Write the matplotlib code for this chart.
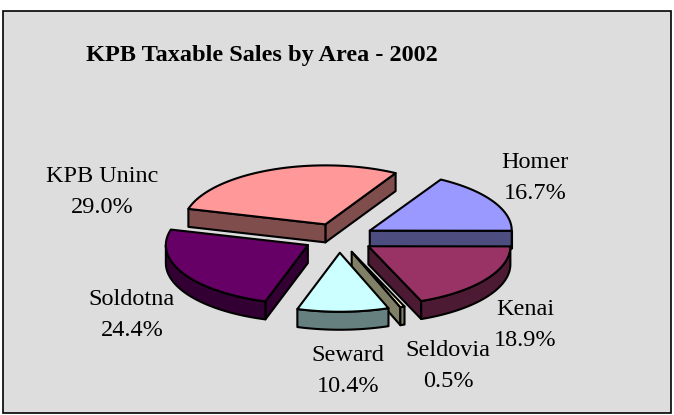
import matplotlib
matplotlib.use("Agg")
import matplotlib.pyplot as plt
from matplotlib.patches import Polygon, Rectangle
import numpy as np

# data (percent of taxable sales), clockwise from Homer
areas = ['Homer', 'Kenai', 'Seldovia', 'Seward', 'Soldotna', 'KPB Uninc']
shares = [16.7, 18.9, 0.5, 10.4, 24.4, 29.0]

# Excel-ish 3D colours (top face, side face)
top_colors = ['#9999FF', '#993366', '#FFFFCC', '#CCFFFF', '#660066', '#FF9999']
side_colors = ['#4D4D80', '#4D1A33', '#808066', '#668080', '#330033', '#804D4D']

# label centres in pixels (x, y) with y measured from the top
label_pos = [(535, 178), (525, 325), (448, 366), (348, 371), (132, 315), (102, 192)]

# pie geometry in pixels
W, H = 674, 415
CX, CY = 339, 238
RX, RY = 142, 59
EXPLODE = 0.25
DEPTH = 18
START = 60.0

fig = plt.figure(figsize=(W / 100, H / 100), dpi=100)
ax = fig.add_axes([0, 0, 1, 1])
ax.set_xlim(0, W)
ax.set_ylim(H, 0)
ax.axis('off')

# chart area
ax.add_patch(Rectangle((3, 11), 668, 402, facecolor='#DDDDDD', edgecolor='black', lw=1.2))


def rim(cx, cy, t, dz=0):
    t = np.radians(t)
    return np.column_stack([cx + RX * np.cos(t), cy - RY * np.sin(t) + dz])


def slice_faces(lo, hi):
    """Returns list of (points, kind) for the visible faces of one exploded slice."""
    mid = np.radians((lo + hi) / 2)
    cx = CX + EXPLODE * RX * np.cos(mid)
    cy = CY - EXPLODE * RY * np.sin(mid)
    faces = []
    # radial cut faces
    for ang, visible in ((lo, np.cos(np.radians(lo)) > 0), (hi, np.cos(np.radians(hi)) < 0)):
        if visible:
            p = rim(cx, cy, np.array([ang]))[0]
            faces.append((np.array([[cx, cy], p, p + [0, DEPTH], [cx, cy + DEPTH]]), 'side'))
    # outer curved wall, front half only
    for k in (-1, 0, 1):
        a = max(lo, -180 + 360 * k)
        b = min(hi, 360 * k)
        if b > a:
            t = np.linspace(a, b, 80)
            up = rim(cx, cy, t)
            down = rim(cx, cy, t[::-1], DEPTH)
            faces.append((np.vstack([up, down]), 'side'))
    # top face
    t = np.linspace(lo, hi, 120)
    faces.append((np.vstack([[cx, cy], rim(cx, cy, t)]), 'top'))
    return faces, cy


slices = []
acc = 0.0
for i, v in enumerate(shares):
    hi = START - acc * 3.6
    lo = hi - v * 3.6
    acc += v
    faces, depth = slice_faces(lo, hi)
    slices.append((depth, i, faces))

# back to front
for depth, i, faces in sorted(slices, key=lambda s: s[0]):
    for pts, kind in faces:
        col = top_colors[i] if kind == 'top' else side_colors[i]
        ax.add_patch(Polygon(pts, closed=True, facecolor=col, edgecolor='black',
                             lw=1.5, joinstyle='round'))

for name, v, (x, y) in zip(areas, shares, label_pos):
    ax.text(x, y, f'{name}\n{v:.1f}%', ha='center', va='center', fontsize=17.5,
            family='Liberation Serif', linespacing=1.6)

ax.text(262, 55, 'KPB Taxable Sales by Area - 2002', ha='center', va='center',
        fontsize=17.5, fontweight='bold', family='Liberation Serif')

fig.savefig('out.png', dpi=100, facecolor='white')
